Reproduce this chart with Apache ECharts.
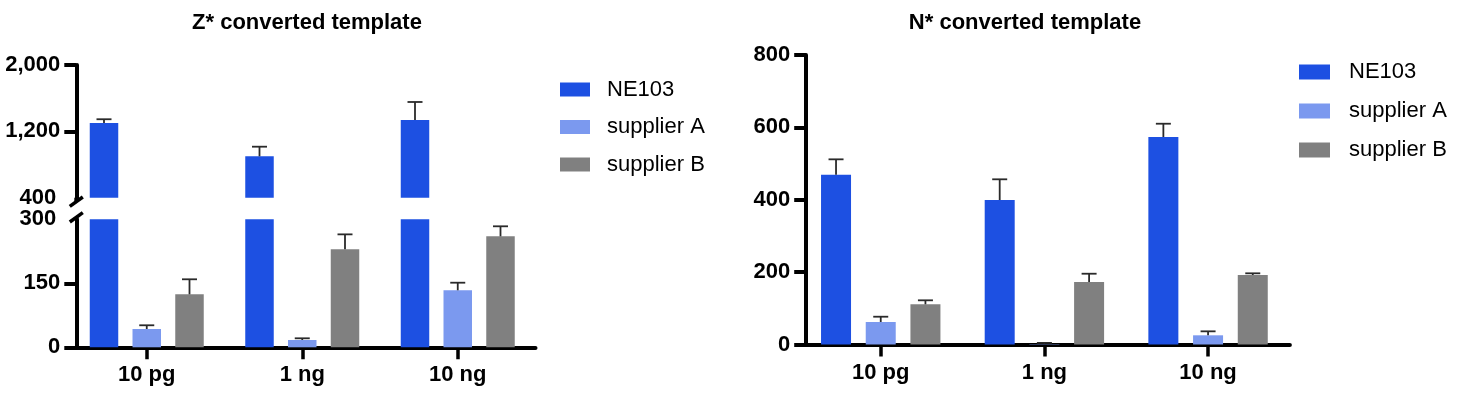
<!DOCTYPE html>
<html><head><meta charset="utf-8">
<script src="https://cdn.jsdelivr.net/npm/echarts@6/dist/echarts.min.js"></script>
<style>html,body{margin:0;padding:0;background:#fff}#c{width:1467px;height:396px}</style>
</head><body><div id="c"></div><script>
// ---- data ----
const categories = ['10 pg', '1 ng', '10 ng'];
const seriesNames = ['NE103', 'supplier A', 'supplier B'];
// Z* converted template (broken axis)
const zNE103 = [1301, 899, 1337];
const zNE103Err = [45, 116, 217];
const zSupA = [42.9, 17.1, 133.6];
const zSupAErr = [8.7, 4, 17.8];
const zSupB = [124.2, 229.7, 260.1];
const zSupBErr = [35.2, 35, 23.5];
// N* converted template
const nNE103 = [469.2, 399.3, 573.4];
const nNE103Err = [42.5, 57.2, 36.7];
const nSupA = [62.2, 1, 25.4];
const nSupAErr = [14.6, 3.5, 11];
const nSupB = [111.1, 172.7, 192];
const nSupBErr = [11, 22.9, 4.7];
// tick labels
const zUpperTicks = [400, 1200, 2000];
const zLowerTicks = [0, 150, 300];
const nTicks = [0, 200, 400, 600, 800];
const titles = ['Z* converted template', 'N* converted template'];

// ---- style ----
const FONT = "'Liberation Sans', Arial, Helvetica, sans-serif";
const colors = ['#1D50E2', '#7B99EF', '#808080'];
const ERR = '#2a2a2a';

// layout constants
const L = { left: 69, width: 466.5, upTop: 65, upH: 132.7, loTop: 219.3, loH: 128, yOff: -7.3, bw: 28.5, gap: 0.5 };
const R = { left: 798.9, width: 491, top: 55, h: 289.5, yOff: -7.3, bw: 30, gap: 0.49 };

function fmt(v) { return Number(v).toLocaleString('en-US'); }

function errRender(slot, bw, gap) {
  return function (params, api) {
    const step = bw * (1 + gap);
    const base = api.coord([api.value(0), api.value(1)]);
    const top = api.coord([api.value(0), api.value(1) + api.value(2)]);
    const x = base[0] + (slot - 1) * step;
    const cap = 7.5;
    const st = { stroke: ERR, lineWidth: 1.8 };
    return { type: 'group', children: [
      { type: 'line', shape: { x1: x, y1: base[1], x2: x, y2: top[1] }, style: st },
      { type: 'line', shape: { x1: x - cap, y1: top[1], x2: x + cap, y2: top[1] }, style: st }
    ] };
  };
}
function errData(vals, errs) { return vals.map((v, i) => [i, v, errs[i]]); }

function yAxisBase(gridIndex, min, max, tickVals, labelVals, breakVal, off) {
  return {
    gridIndex, type: 'value', min, max, offset: off,
    axisLine: { show: true, lineStyle: { color: '#000', width: 4 } },
    axisTick: { show: true, length: 12, customValues: tickVals, lineStyle: { color: '#000', width: 4 } },
    axisLabel: {
      customValues: labelVals, margin: 16, fontFamily: FONT, fontSize: 22, fontWeight: 'bold', color: '#000',
      formatter: v => (v === breakVal ? '{b|' + fmt(v) + '}' : fmt(v)),
      rich: { b: { padding: [0, 4, 0, 0], fontFamily: FONT, fontSize: 22, fontWeight: 'bold', color: '#000' } }
    },
    splitLine: { show: false }
  };
}
function xAxisBase(gridIndex, show) {
  return {
    gridIndex, type: 'category', data: categories, show,
    axisLine: { show: true, lineStyle: { color: '#000', width: 4 } },
    axisTick: { show: true, alignWithLabel: true, length: 12, lineStyle: { color: '#000', width: 3.5 } },
    axisLabel: { margin: 17, fontFamily: FONT, fontSize: 22, fontWeight: 'bold', color: '#000' }
  };
}
function bar(name, data, xi, yi, idx, bw, gap) {
  return { name, type: 'bar', xAxisIndex: xi, yAxisIndex: yi, data, barWidth: bw, barGap: (gap * 100) + '%',
    itemStyle: { color: colors[idx] }, clip: true, animation: false };
}
function errS(vals, errs, xi, yi, slot, bw, gap) {
  return { type: 'custom', xAxisIndex: xi, yAxisIndex: yi, data: errData(vals, errs), z: 3,
    encode: { x: 0, y: 1 }, renderItem: errRender(slot, bw, gap), animation: false, silent: true };
}
const empty = categories.map(() => '-');

const titleStyle = { fontFamily: FONT, fontSize: 22, fontWeight: 'bold', color: '#000' };
const option = {
  backgroundColor: '#fff',
  animation: false,
  title: [
    { text: titles[0], left: 307, top: 12, padding: 0, textAlign: 'center', textStyle: titleStyle },
    { text: titles[1], left: 1025, top: 12, padding: 0, textAlign: 'center', textStyle: titleStyle }
  ],
  legend: [
    { data: seriesNames, orient: 'vertical', left: 560, top: 78.5, padding: 0, itemWidth: 30, itemHeight: 14, itemGap: 15.5,
      icon: 'rect', selectedMode: false, textStyle: { fontFamily: FONT, fontSize: 22, color: '#000', padding: [0, 0, 0, 12] } },
    { data: seriesNames, orient: 'vertical', left: 1299, top: 61, padding: 0, itemWidth: 31, itemHeight: 15, itemGap: 17,
      icon: 'rect', selectedMode: false, textStyle: { fontFamily: FONT, fontSize: 22, color: '#000', padding: [0, 0, 0, 14] } }
  ],
  grid: [
    { left: L.left, width: L.width, top: L.upTop, height: L.upH, containLabel: false },
    { left: L.left, width: L.width, top: L.loTop, height: L.loH, containLabel: false },
    { left: R.left, width: R.width, top: R.top, height: R.h, containLabel: false }
  ],
  xAxis: [xAxisBase(0, false), xAxisBase(1, true), xAxisBase(2, true)],
  yAxis: [
    yAxisBase(0, zUpperTicks[0], zUpperTicks[2], zUpperTicks.slice(1), zUpperTicks, zUpperTicks[0], L.yOff),
    yAxisBase(1, zLowerTicks[0], zLowerTicks[2], zLowerTicks.slice(0, 2), zLowerTicks, zLowerTicks[2], L.yOff),
    yAxisBase(2, nTicks[0], nTicks[nTicks.length - 1], nTicks, nTicks, null, R.yOff)
  ],
  series: [
    // Z upper
    bar(seriesNames[0], zNE103, 0, 0, 0, L.bw, L.gap),
    bar(seriesNames[1], empty, 0, 0, 1, L.bw, L.gap),
    bar(seriesNames[2], empty, 0, 0, 2, L.bw, L.gap),
    errS(zNE103, zNE103Err, 0, 0, 0, L.bw, L.gap),
    // Z lower
    bar(seriesNames[0], zNE103, 1, 1, 0, L.bw, L.gap),
    bar(seriesNames[1], zSupA, 1, 1, 1, L.bw, L.gap),
    bar(seriesNames[2], zSupB, 1, 1, 2, L.bw, L.gap),
    errS(zSupA, zSupAErr, 1, 1, 1, L.bw, L.gap),
    errS(zSupB, zSupBErr, 1, 1, 2, L.bw, L.gap),
    // N
    bar(seriesNames[0], nNE103, 2, 2, 0, R.bw, R.gap),
    bar(seriesNames[1], nSupA, 2, 2, 1, R.bw, R.gap),
    bar(seriesNames[2], nSupB, 2, 2, 2, R.bw, R.gap),
    errS(nNE103, nNE103Err, 2, 2, 0, R.bw, R.gap),
    errS(nSupA, nSupAErr, 2, 2, 1, R.bw, R.gap),
    errS(nSupB, nSupBErr, 2, 2, 2, R.bw, R.gap)
  ]
};

const chart = echarts.init(document.getElementById('c'), null, { renderer: 'canvas' });
chart.setOption(option);

// axis-break marks
const ax = L.left - L.yOff;
const yUp = chart.convertToPixel({ yAxisIndex: 0 }, zUpperTicks[0]);
const yLo = chart.convertToPixel({ yAxisIndex: 1 }, zLowerTicks[2]);
const s1 = yUp + 4, s2 = yLo - 2;
const ls = { stroke: '#000', lineWidth: 3.5 };
chart.setOption({ graphic: [
  { type: 'line', shape: { x1: ax, y1: yUp, x2: ax, y2: s1 }, style: { stroke: '#000', lineWidth: 4 } },
  { type: 'line', shape: { x1: ax, y1: s2, x2: ax, y2: yLo }, style: { stroke: '#000', lineWidth: 4 } },
  { type: 'line', shape: { x1: ax - 6.5, y1: s1 + 4.7, x2: ax + 6.5, y2: s1 - 4.7 }, style: ls },
  { type: 'line', shape: { x1: ax - 6.5, y1: s2 + 4.7, x2: ax + 6.5, y2: s2 - 4.7 }, style: ls }
] });
</script></body></html>
